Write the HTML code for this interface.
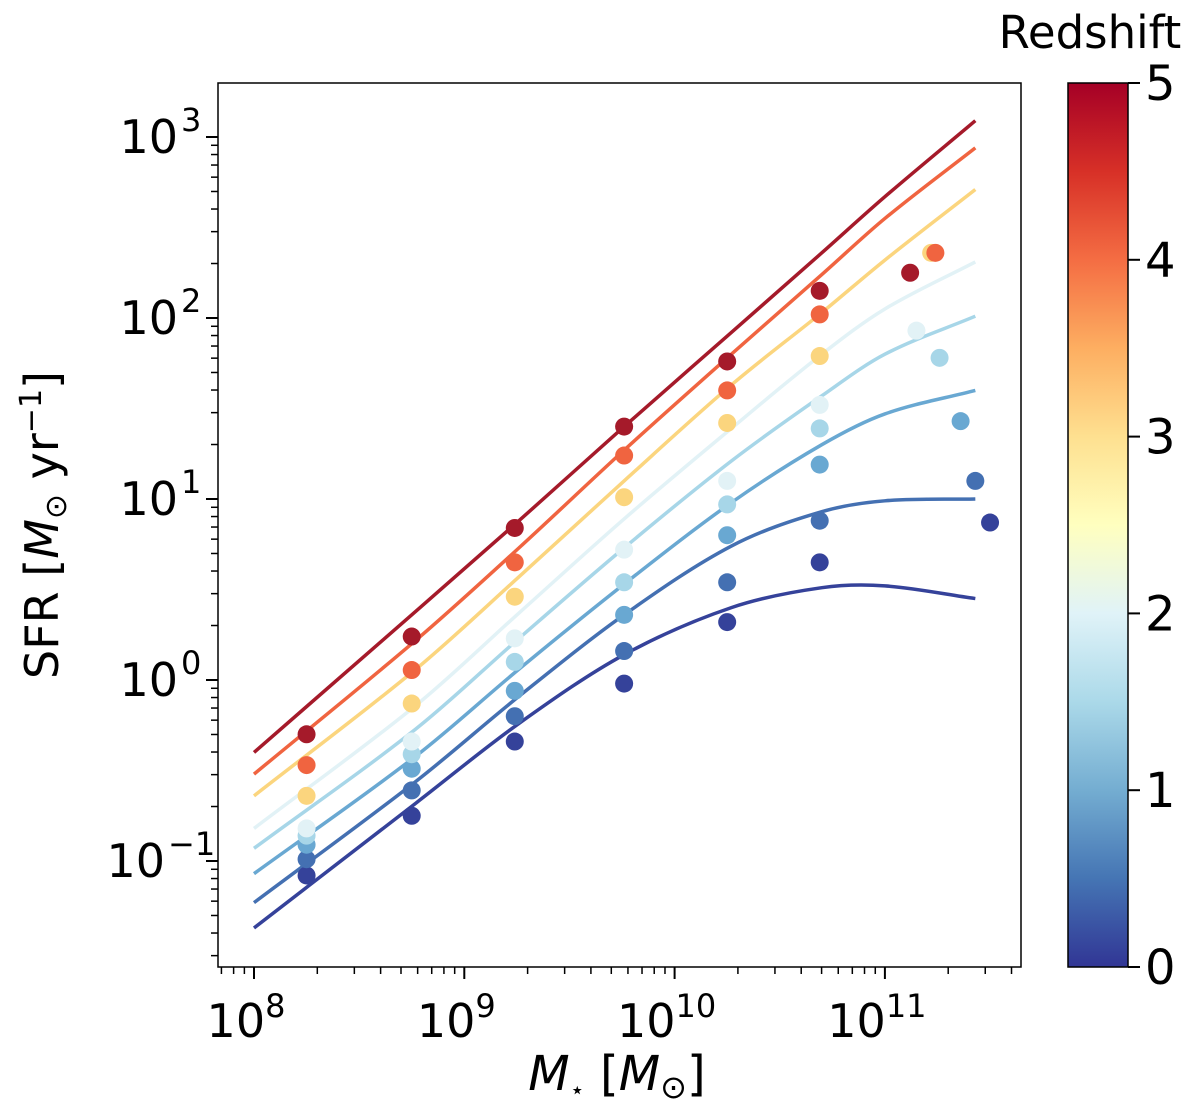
<!DOCTYPE html>
<html><head><meta charset="utf-8">
<style>
html,body{margin:0;padding:0;background:#fff;}
svg{display:block;font-family:"DejaVu Sans","Liberation Sans",sans-serif;}
</style></head>
<body>
<svg id="chart" width="1200" height="1114" viewBox="0 0 1200 1114" xmlns="http://www.w3.org/2000/svg">
<defs>
<linearGradient id="cbgrad" x1="0" y1="1" x2="0" y2="0">
<stop offset="0" stop-color="#313695"/><stop offset="0.1" stop-color="#4575b4"/><stop offset="0.2" stop-color="#74add1"/><stop offset="0.3" stop-color="#abd9e9"/><stop offset="0.4" stop-color="#e0f3f8"/><stop offset="0.5" stop-color="#ffffbf"/><stop offset="0.6" stop-color="#fee090"/><stop offset="0.7" stop-color="#fdae61"/><stop offset="0.8" stop-color="#f46d43"/><stop offset="0.9" stop-color="#d73027"/><stop offset="1" stop-color="#a50026"/>
</linearGradient>
</defs>
<g id="plot"></g>
<g id="axes"></g>
<g id="cbar"></g>
</svg>
<script>
// ---- data ----
const curveMass = [8.0, 8.77, 9.26, 9.76, 10.27, 10.70, 11.0, 11.43];
const curveColors = ["#35429a","#4470b2","#69a8d2","#a7d6e8","#e2f2f6","#fbd57e","#f06440","#a51a2a"];
const curveZ0 = [-1.37,-0.68,-0.24,0.14,0.40,0.51,0.52,0.45];
const curveZ1 = [-1.23,-0.56,-0.09,0.36,0.74,0.93,0.99,1.00];
const curveZ2 = [-1.07,-0.42,0.06,0.53,0.98,1.30,1.47,1.60];
const curveZ3 = [-0.93,-0.27,0.23,0.73,1.21,1.57,1.80,2.01];
const curveZ4 = [-0.82,-0.14,0.37,0.89,1.39,1.80,2.05,2.31];
const curveZ5 = [-0.64,0.06,0.57,1.10,1.63,2.03,2.32,2.71];
const curveZ6 = [-0.52,0.22,0.73,1.27,1.80,2.24,2.55,2.94];
const curveZ7 = [-0.40,0.38,0.88,1.40,1.92,2.36,2.67,3.09];
const curves = [curveZ0,curveZ1,curveZ2,curveZ3,curveZ4,curveZ5,curveZ6,curveZ7];

const ptMass = [8.25, 8.75, 9.24, 9.76, 10.25, 10.69];
const ptLastMass = [11.50, 11.43, 11.36, 11.26, 11.15, 11.22, 11.24, 11.12];
const ptZ0 = [-1.08,-0.75,-0.34,-0.02,0.32,0.65,0.87];
const ptZ1 = [-0.99,-0.61,-0.20,0.16,0.54,0.88,1.10];
const ptZ2 = [-0.91,-0.49,-0.06,0.36,0.80,1.19,1.43];
const ptZ3 = [-0.86,-0.41,0.10,0.54,0.97,1.39,1.78];
const ptZ4 = [-0.82,-0.34,0.23,0.72,1.10,1.52,1.93];
const ptZ5 = [-0.64,-0.13,0.46,1.01,1.42,1.79,2.36];
const ptZ6 = [-0.47,0.055,0.65,1.24,1.60,2.02,2.36];
const ptZ7 = [-0.30,0.24,0.84,1.40,1.76,2.15,2.25];
const points = [ptZ0,ptZ1,ptZ2,ptZ3,ptZ4,ptZ5,ptZ6,ptZ7];

const xTickExp = [8,9,10,11];
const yTickExp = [-1,0,1,2,3];
const cbTicks = [0,1,2,3,4,5];

// ---- scales ----
const L=218,R=1021,T=83,B=967;
const X = v => 254 + (v-8)*210.3;
const Y = v => 680 - v*181;
const CB = z => 967 - z*(967-83)/5;
const NS="http://www.w3.org/2000/svg";
function mk(tag, attrs, parent){const e=document.createElementNS(NS,tag);for(const k in attrs)e.setAttribute(k,attrs[k]);parent.appendChild(e);return e;}
const plot=document.getElementById('plot'), axes=document.getElementById('axes'), cbar=document.getElementById('cbar');

// curves
curves.forEach((arr,ci)=>{
  const p=arr.map((v,i)=>[X(curveMass[i]),Y(v)]);
  let d=`M${p[0][0]},${p[0][1]}`;
  for(let i=0;i<p.length-1;i++){
    const p0=p[Math.max(0,i-1)],p1=p[i],p2=p[i+1],p3=p[Math.min(p.length-1,i+2)];
    const h=p2[0]-p1[0];
    const s1=(p2[1]-p0[1])/(p2[0]-p0[0]||1), s2=(p3[1]-p1[1])/(p3[0]-p1[0]||1);
    const c1=[p1[0]+h/3,p1[1]+s1*h/3];
    const c2=[p2[0]-h/3,p2[1]-s2*h/3];
    d+=`C${c1[0]},${c1[1]} ${c2[0]},${c2[1]} ${p2[0]},${p2[1]}`;
  }
  const el=mk('path',{d:d,fill:'none',stroke:curveColors[ci],'stroke-width':3.5},plot);
  
  
});
// points
points.forEach((arr,ci)=>{
  arr.forEach((v,i)=>{
    const m = i<ptMass.length ? ptMass[i] : ptLastMass[ci];
    const c=mk('circle',{cx:X(m),cy:Y(v),r:9,fill:curveColors[ci]},plot);
    
    
  });
});

// frame
const fr=mk('rect',{x:L,y:T,width:R-L,height:B-T,fill:'none',stroke:'#000','stroke-width':1.5},axes);


// x ticks
for(let e=7;e<=11;e++){
  for(let k=1;k<10;k++){
    const v=e+Math.log10(k); const px=X(v);
    if(px<L||px>R) continue;
    const len=k===1?12:7;
    mk('line',{x1:px,y1:B,x2:px,y2:B+len,stroke:'#000','stroke-width':k===1?2:1.5},axes);
  }
}
xTickExp.forEach(e=>{
  const t=mk('text',{x:X(e)-8,y:1037,'font-size':46,'text-anchor':'middle'},axes);
  
  
  t.innerHTML=`10<tspan font-size="32" dy="-20">${e}</tspan>`;
});
// y ticks
for(let e=-2;e<=3;e++){
  for(let k=1;k<10;k++){
    const v=e+Math.log10(k); const py=Y(v);
    if(py<T||py>B) continue;
    const len=k===1?12:7;
    mk('line',{x1:L-len,y1:py,x2:L,y2:py,stroke:'#000','stroke-width':k===1?2:1.5},axes);
  }
}
yTickExp.forEach(e=>{
  const t=mk('text',{x:e<0?165:178,y:Y(e)+16,'font-size':46,'text-anchor':'end'},axes);
  
  
  t.textContent='10';
  const s=mk('text',{x:e<0?168:181,y:Y(e)-6,'font-size':32,'text-anchor':'start'},axes);
  
  
  s.textContent=e<0?'\u2212'+(-e):String(e);
});
// axis titles
const xt=mk('text',{x:617,y:1090,'font-size':48,'text-anchor':'middle'},axes);


xt.innerHTML='<tspan font-style="italic">M</tspan><tspan font-size="24" dy="8">\u22c6</tspan><tspan dy="-8"> [</tspan><tspan font-style="italic">M</tspan><tspan font-size="32" dy="8">\u2299</tspan><tspan dy="-8">]</tspan>';
const yt=mk('text',{x:0,y:0,'font-size':46,'text-anchor':'middle',transform:'translate(58,525) rotate(-90)'},axes);


yt.innerHTML='SFR [<tspan font-style="italic">M</tspan><tspan font-size="30" dy="8">\u2299</tspan><tspan dy="-8"> yr</tspan><tspan font-size="30" dy="-17">\u22121</tspan><tspan dy="17">]</tspan>';

// colorbar
const cb=mk('rect',{x:1068,y:83,width:60,height:884,fill:'url(#cbgrad)',stroke:'#000','stroke-width':1.5},cbar);


cbTicks.forEach(z=>{
  mk('line',{x1:1128,y1:CB(z),x2:1140,y2:CB(z),stroke:'#000','stroke-width':2},cbar);
  const t=mk('text',{x:1145,y:CB(z)+17,'font-size':48},cbar);
  
  
  t.textContent=z;
});
const ct=mk('text',{x:1090,y:48,'font-size':45,'text-anchor':'middle'},cbar);


ct.textContent='Redshift';
</script>
</body></html>
